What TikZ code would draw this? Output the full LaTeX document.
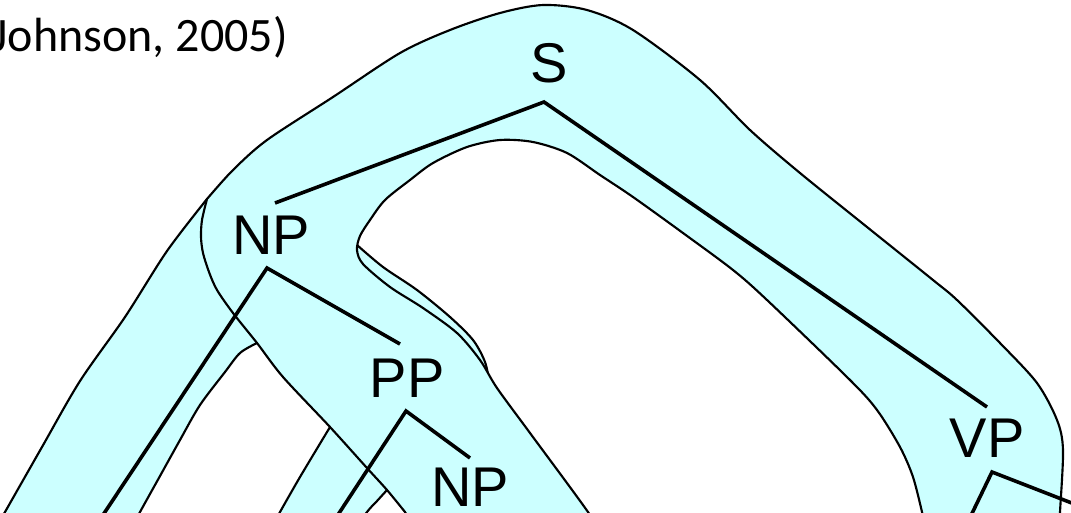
\documentclass[tikz,border=0pt]{standalone}
\usepackage{fontspec}
\setmainfont{Liberation Sans}
\newfontfamily\citefont{Carlito}
\definecolor{blobcyan}{HTML}{CCFFFF}
\begin{document}
\begin{tikzpicture}[x=0.75pt,y=-0.75pt,
  blob/.style={fill=blobcyan, draw=black, line width=1.6pt, line join=round},
  edge/.style={draw=black, line width=2.7pt},
  lab/.style={font=\fontsize{42}{48}\selectfont, inner sep=0pt}]
\useasboundingbox (0,0) rectangle (1071,512);
\clip (0,0) rectangle (1071,512);

% NP local tree region (left arm visible, rest under the S region)
\path[blob] (-25,560)
  -- plot[smooth] coordinates {(5,512) (42,447) (80,381) (125,317) (167,251) (207,199)}
  -- (240,202) -- (330,215)
  -- plot[smooth] coordinates {(357,245) (383,267) (417,290) (450,317) (473,340) (485,362) (490,385)}
  -- (460,415) -- (380,390) -- (300,362)
  -- plot[smooth] coordinates {(257,343) (240,353) (225,372) (200,405) (180,440) (160,476) (140,512) (122,545)}
  -- cycle;

% PP local tree region (left arm visible)
\path[blob] (262,545)
  -- plot[smooth] coordinates {(280,512) (300,477) (330,427) (345,402)}
  -- (420,385) -- (470,430) -- (420,470)
  -- plot[smooth] coordinates {(395,481) (387,490) (377,501) (367,512) (347,540)}
  -- cycle;

% spine region: S with NP-PP-NP chain and VP
\path[blob] (425,545)
  -- plot[smooth] coordinates {(405,512) (387,490) (367,468) (330,427) (283,377) (257,343) (233,313) (217,290) (209,272) (203,253) (201,237) (202,220) (207,199)}
  -- plot[smooth] coordinates {(207,199) (233,170) (267,140) (333,97) (400,53) (450,30) (500,13) (543,5) (587,10) (633,30) (700,80) (750,130) (800,173) (867,227) (933,280) (957,300) (1000,343) (1037,383) (1057,420) (1063,450) (1060,512) (1058,545)}
  -- (930,545)
  -- plot[smooth] coordinates {(922,512) (913,477) (900,447) (877,410) (850,380) (767,300) (733,270) (683,233) (633,197) (600,175) (567,153) (533,142) (500,140) (467,147) (433,163) (410,180) (385,200) (370,220) (360,236) (357,250) (363,264) (390,287) (423,308) (457,333) (480,360) (497,388) (530,433) (588,512) (608,545)}
  -- cycle;

% category labels
\node[lab] (S) at (549,63) {S};
\node[lab] (NP1) at (271,235) {NP};
\node[lab] (PP) at (407,378) {PP};
\node[lab] (NP2) at (470,487) {NP};
\node[lab] (VP) at (987,438) {VP};

% attachment points of the branches
\coordinate (S-b) at (544,102);
\coordinate (NP1-t) at (275,203);
\coordinate (NP1-b) at (267,268);
\coordinate (PP-t) at (400,344);
\coordinate (PP-b) at (406,411);
\coordinate (NP2-t) at (470,458);
\coordinate (VP-t) at (987,407);
\coordinate (VP-b) at (992,472);
\coordinate (NP1-x) at (93,530);
\coordinate (PP-x) at (328,530);
\coordinate (VP-x) at (964,530);
\coordinate (VP-y) at (1100,514);

% branches
\draw[edge] (NP1-t) -- (S-b) -- (VP-t);
\draw[edge] (NP1-x) -- (NP1-b) -- (PP-t);
\draw[edge] (PP-x) -- (PP-b) -- (NP2-t);
\draw[edge] (VP-x) -- (VP-b) -- (VP-y);

% citation
\node[anchor=base east, inner sep=0pt, font=\citefont\fontsize{36}{40}\selectfont] (cite) at (288,51) {Johnson, 2005)};
\end{tikzpicture}
\end{document}
